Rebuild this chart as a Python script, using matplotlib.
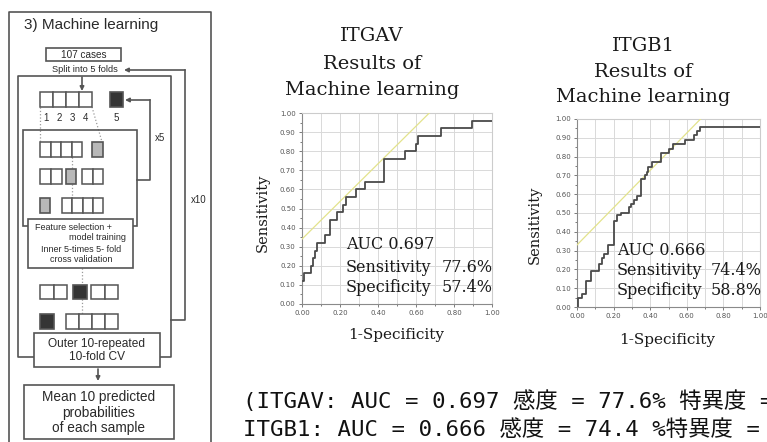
import matplotlib
matplotlib.use("Agg")
import matplotlib.pyplot as plt
from matplotlib.patches import Rectangle
from matplotlib.ticker import MultipleLocator, FormatStrFormatter

# ── 1. Data ─────────────────────────────────────────────────────────────────
genes = ["ITGAV", "ITGB1"]
auc = [0.697, 0.666]
sensitivity = [77.6, 74.4]
specificity = [57.4, 58.8]

# ROC step curves (steps-post: horizontal to next fpr, then up to its tpr)
itgav_fpr = [0.005, 0.008, 0.049, 0.058, 0.067, 0.077, 0.119, 0.149, 0.186,
             0.216, 0.233, 0.286, 0.330, 0.430, 0.540, 0.600, 0.610, 0.733,
             0.895, 1.000]
itgav_tpr = [0.12, 0.16, 0.20, 0.24, 0.28, 0.32, 0.36, 0.44, 0.48,
             0.52, 0.56, 0.60, 0.64, 0.76, 0.80, 0.84, 0.88, 0.92,
             0.96, 0.96]

itgb1_fpr = [0.004, 0.004, 0.030, 0.047, 0.078, 0.120, 0.138, 0.150, 0.170,
             0.200, 0.218, 0.240, 0.284, 0.297, 0.310, 0.330, 0.350, 0.370,
             0.380, 0.390, 0.410, 0.460, 0.500, 0.525, 0.590, 0.640, 0.655,
             0.674, 0.800, 1.000]
itgb1_tpr = [0.00, 0.05, 0.07, 0.14, 0.19, 0.23, 0.26, 0.28, 0.33,
             0.46, 0.49, 0.50, 0.53, 0.55, 0.57, 0.59, 0.68, 0.70,
             0.72, 0.745, 0.77, 0.82, 0.84, 0.865, 0.89, 0.915, 0.935,
             0.955, 0.955, 0.955]

# tangent (Youden) lines
itgav_line_x = [0.0, 0.67]
itgav_line_y = [0.34, 1.00]
itgb1_line_x = [0.0, 0.675]
itgb1_line_y = [0.33, 1.00]

W, H = 767, 442
LINE = "#555555"
GREY = "#b8b8b8"
DARK = "#353535"
SANS = "Liberation Sans"
SERIF = "DejaVu Serif"

fig = plt.figure(figsize=(W / 100, H / 100), dpi=100)

# ── 2. Flow chart, drawn in pixel coordinates ──────────────────────────────
ax0 = fig.add_axes([0, 0, 1, 1])
ax0.set_xlim(0, W)
ax0.set_ylim(H, 0)
ax0.axis("off")


def rect(x0, y0, x1, y1, fc="white", lw=1.2, z=2):
    ax0.add_patch(Rectangle((x0, y0), x1 - x0, y1 - y0, fc=fc, ec=LINE,
                            lw=lw, zorder=z))


def cells(x0, y0, n, w, h, fc="white"):
    for i in range(n):
        rect(x0 + i * w, y0, x0 + (i + 1) * w, y0 + h, fc=fc, lw=1.1)


def line(xs, ys, **kw):
    kw.setdefault("color", LINE)
    kw.setdefault("lw", 1.2)
    ax0.plot(xs, ys, **kw)


def dots(xs, ys):
    ax0.plot(xs, ys, color="#9a9a9a", lw=0.9, ls=":", zorder=1)


def arrow(x0, y0, x1, y1):
    ax0.annotate("", xy=(x1, y1), xytext=(x0, y0),
                 arrowprops=dict(arrowstyle="-|>", color=LINE, lw=1.2,
                                 mutation_scale=6, shrinkA=0, shrinkB=0))


def label(x, y, s, size=6.5, ha="center", z=5):
    ax0.text(x, y, s, fontsize=size, ha=ha, va="center", family=SANS,
             color="#2a2a2a", zorder=z)


line([9, 9, 211, 211], [450, 12, 12, 450])
label(24, 25, "3) Machine learning", size=11, ha="left")

rect(46, 48, 121, 61)
label(83.5, 54.5, "107 cases", size=7.2)
label(85, 70, "Split into 5 folds", size=6.7)

# x10 loop and middle box
line([171, 185, 185], [320, 320, 70])
arrow(185, 70, 124, 70)
line([34, 18, 18, 171, 171, 160], [357, 357, 76, 76, 357, 357])
label(199, 200, "x10", size=7)

# folds
arrow(82, 77, 82, 91)
cells(40, 92, 4, 13, 15)
rect(110, 92, 123, 107, fc=DARK)
for i, s in enumerate(["1", "2", "3", "4"]):
    label(46.5 + 13 * i, 118, s, size=7)
label(116.5, 118, "5", size=7)

# x5 loop
line([137, 150, 150], [180, 180, 100])
arrow(150, 100, 125, 100)
label(160, 138, "x5", size=7)

# inner CV box
rect(23, 130, 137, 226, fc="none")
dots([40, 40], [107, 142])
dots([92, 102], [107, 142])
cells(40, 142, 4, 10.5, 15)
rect(92, 142, 103, 157, fc=GREY)
dots([72, 72], [157, 169])
cells(40, 169, 2, 11, 15)
rect(66, 169, 76, 184, fc=GREY)
cells(82, 169, 2, 10.5, 15)
dots([72, 72], [184, 198])
rect(40, 198, 50, 213, fc=GREY)
cells(62, 198, 4, 10.3, 15)

rect(28, 219, 133, 268, z=3)
label(35, 227, "Feature selection +", ha="left")
label(126, 238, "model training", ha="right")
label(81, 249, "Inner 5-times 5- fold")
label(81, 259, "cross validation")

# outer folds
dots([82, 82], [268, 285])
cells(40, 285, 2, 13.5, 14)
rect(73, 285, 87, 299, fc=DARK)
cells(91, 285, 2, 13.5, 14)
dots([82, 82], [299, 314])
rect(40, 314, 54, 329, fc=DARK)
cells(66, 314, 4, 13, 15)

rect(34, 333, 160, 367, z=3)
label(97, 344, "Outer 10-repeated", size=8.6)
label(97, 357, "10-fold CV", size=8.6)
arrow(98, 369, 98, 381)
rect(24, 385, 174, 439)
label(99, 397, "Mean 10 predicted", size=9.8)
label(99, 413, "probabilities", size=9.8)
label(99, 428, "of each sample", size=9.8)

# ── 3. ROC panels ──────────────────────────────────────────────────────────
panels = [
    dict(box=(302, 113, 492, 304), fpr=itgav_fpr, tpr=itgav_tpr,
         lx=itgav_line_x, ly=itgav_line_y, title_x=372, title_y=(36, 64, 90),
         ylab=(263, 213), xlab=(396, 335),
         tx=0.23, tr=1.005, ty=(0.31, 0.19, 0.085)),
    dict(box=(577, 119, 760, 307), fpr=itgb1_fpr, tpr=itgb1_tpr,
         lx=itgb1_line_x, ly=itgb1_line_y, title_x=643, title_y=(46, 72, 97),
         ylab=(535, 225), xlab=(667, 340),
         tx=0.219, tr=1.01, ty=(0.30, 0.195, 0.09)),
]

for i, p in enumerate(panels):
    l, t, r, b = p["box"]
    ax = fig.add_axes([l / W, 1 - b / H, (r - l) / W, (b - t) / H])
    ax.plot(p["lx"], p["ly"], color="#e3e38c", lw=0.9, zorder=3)
    ax.step(p["fpr"], p["tpr"], where="post", color="#4a4a4a", lw=1.3,
            zorder=4)
    ax.set_xlim(0, 1)
    ax.set_ylim(0, 1)
    ax.xaxis.set_major_locator(MultipleLocator(0.2))
    ax.xaxis.set_minor_locator(MultipleLocator(0.1))
    ax.yaxis.set_major_locator(MultipleLocator(0.1))
    ax.yaxis.set_minor_locator(MultipleLocator(0.05))
    ax.xaxis.set_major_formatter(FormatStrFormatter("%.2f"))
    ax.yaxis.set_major_formatter(FormatStrFormatter("%.2f"))
    ax.grid(axis="x", which="both", color="#d9d9d9", lw=0.7)
    ax.grid(axis="y", which="major", color="#d9d9d9", lw=0.7)
    ax.tick_params(which="both", labelsize=5, colors="#666666",
                   labelcolor="#555555", length=2.5, width=0.6, pad=2)
    ax.tick_params(which="minor", length=1.5)
    for side in ["top", "right"]:
        ax.spines[side].set_color("#cccccc")
    for side in ["left", "bottom"]:
        ax.spines[side].set_color("#8a8a8a")
    for s in ax.spines.values():
        s.set_linewidth(0.8)

    txt = dict(family=SERIF, fontsize=11.5, color="#1a1a1a", va="center",
               transform=ax.transAxes, zorder=6)
    ax.text(p["tx"], p["ty"][0], f"AUC {auc[i]:.3f}", **txt)
    ax.text(p["tx"], p["ty"][1], "Sensitivity", **txt)
    ax.text(p["tr"], p["ty"][1], f"{sensitivity[i]:.1f}%", ha="right", **txt)
    ax.text(p["tx"], p["ty"][2], "Specificity", **txt)
    ax.text(p["tr"], p["ty"][2], f"{specificity[i]:.1f}%", ha="right", **txt)

    for s, y in zip([genes[i], "Results of", "Machine learning"], p["title_y"]):
        ax0.text(p["title_x"], y, s, family=SERIF, fontsize=14, ha="center",
                 va="center", color="#1a1a1a")
    ax0.text(*p["ylab"], "Sensitivity", family=SERIF, fontsize=10.5,
             rotation=90, ha="center", va="center", color="#1a1a1a")
    ax0.text(*p["xlab"], "1-Specificity", family=SERIF, fontsize=11,
             ha="center", va="center", color="#1a1a1a")

# ── 4. Japanese summary text (runs off the right edge, as in the source) ───
jp_font = ["DejaVu Sans Mono", "Noto Sans CJK JP"]
line1 = (f"({genes[0]}: AUC = {auc[0]:.3f} 感度 = {sensitivity[0]:.1f}% "
         f"特異度 = {specificity[0]:.1f}%")
line2 = (f"{genes[1]}: AUC = {auc[1]:.3f} 感度 = {sensitivity[1]:.1f} %"
         f"特異度 = {specificity[1]:.1f}%")
ax0.text(243, 401, line1, family=jp_font, fontsize=16.1, va="center",
         ha="left", color="#111111", clip_on=False)
ax0.text(243, 430, line2, family=jp_font, fontsize=16.1, va="center",
         ha="left", color="#111111", clip_on=False)

fig.savefig("out.png", dpi=100)
